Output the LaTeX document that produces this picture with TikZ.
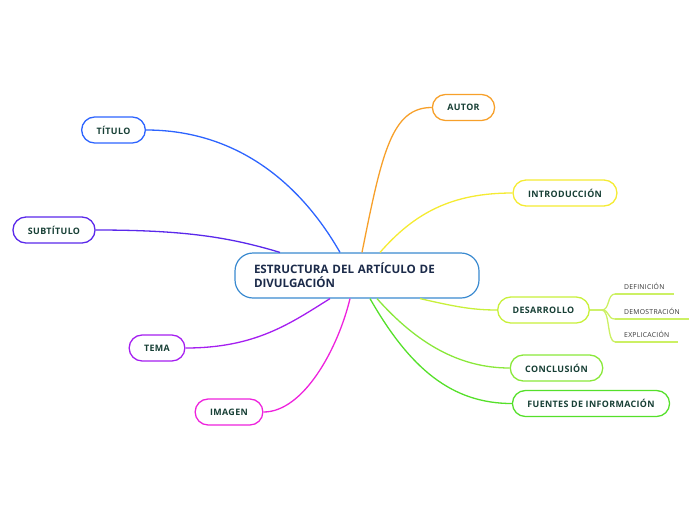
\documentclass[tikz,border=0pt]{standalone}
\usepackage{fontspec}
\setmainfont{Open Sans}
\newfontfamily\branchfont[LetterSpace=4]{Open Sans}
\usetikzlibrary{positioning, calc}
\definecolor{ctrline}{RGB}{58,138,208}
\definecolor{ctrtext}{RGB}{28,43,74}
\definecolor{nodetext}{RGB}{23,63,53}
\definecolor{cTitulo}{RGB}{45,100,255}
\definecolor{cSubtitulo}{RGB}{90,40,235}
\definecolor{cTema}{RGB}{165,30,240}
\definecolor{cImagen}{RGB}{238,34,221}
\definecolor{cAutor}{RGB}{247,160,42}
\definecolor{cIntro}{RGB}{245,235,50}
\definecolor{cDesarrollo}{RGB}{200,240,58}
\definecolor{cConclusion}{RGB}{138,232,58}
\definecolor{cFuentes}{RGB}{85,224,42}
\definecolor{cLeaf}{RGB}{204,240,100}

\begin{document}
\begin{tikzpicture}[x=1pt, y=-1pt,
    topic/.style={draw=ctrline, line width=1.2pt, fill=white, rounded corners=18pt,
      text width=206pt, inner xsep=19pt, minimum height=45pt, align=left,
      font=\fontsize{11.6}{14}\selectfont\bfseries, text=ctrtext},
    branch/.style={draw=#1, line width=1.3pt, fill=white, rounded corners=13pt,
      inner xsep=15pt, minimum height=26pt,
      font=\branchfont\fontsize{8.9}{10}\selectfont\bfseries, text=nodetext},
    link/.style={draw=#1, line width=1.3pt},
    leaf/.style={anchor=south west, inner xsep=9pt, inner ysep=4pt,
      font=\branchfont\fontsize{6.8}{8}\selectfont, text=black!80},
    twig/.style={draw=cLeaf, line width=1.3pt}]
  \useasboundingbox (0,0) rectangle (696,520);

  \node[topic] (ctr) at (357,275.5) {ESTRUCTURA DEL ARTÍCULO DE\\DIVULGACIÓN};

  % left side
  \node[branch=cTitulo] (titulo) at (113.5,130) {TÍTULO};
  \node[branch=cSubtitulo] (subtitulo) at (54,230) {SUBTÍTULO};
  \node[branch=cTema] (tema) at (157,348) {TEMA};
  \node[branch=cImagen] (imagen) at (229,412) {IMAGEN};

  % right side
  \node[branch=cAutor] (autor) at (463.5,107.5) {AUTOR};
  \node[branch=cIntro] (intro) at (565,193) {INTRODUCCIÓN};
  \node[branch=cDesarrollo] (desarrollo) at (543.5,310) {DESARROLLO};
  \node[branch=cConclusion] (conclusion) at (556.5,368) {CONCLUSIÓN};
  \node[branch=cFuentes] (fuentes) at (591,403.5) {FUENTES DE INFORMACIÓN};

  \draw[link=cTitulo] ([xshift=-17pt]ctr.north) .. controls +(-40,-70) and +(90,0) .. (titulo.east);
  \draw[link=cSubtitulo] ([xshift=-77pt]ctr.north) .. controls +(-50,-15) and +(90,0) .. (subtitulo.east);
  \draw[link=cTema] ([xshift=-27pt]ctr.south) .. controls +(-40,25) and +(70,0) .. (tema.east);
  \draw[link=cImagen] ([xshift=-7pt]ctr.south) .. controls +(-12,50) and +(40,0) .. (imagen.east);
  \draw[link=cAutor] ([xshift=5pt]ctr.north) .. controls +(20,-100) and +(-40,0) .. (autor.west);
  \draw[link=cIntro] ([xshift=23pt]ctr.north) .. controls +(35,-40) and +(-60,0) .. (intro.west);
  \draw[link=cDesarrollo] ([xshift=63pt]ctr.south) .. controls +(35,8) and +(-25,0) .. (desarrollo.west);
  \draw[link=cConclusion] ([xshift=20pt]ctr.south) .. controls +(40,45) and +(-50,0) .. (conclusion.west);
  \draw[link=cFuentes] ([xshift=13pt]ctr.south) .. controls +(40,70) and +(-60,0) .. (fuentes.west);

  % sub topics of DESARROLLO
  \node[leaf] (definicion) at (615,294) {DEFINICIÓN};
  \node[leaf] (demostracion) at (615,319) {DEMOSTRACIÓN};
  \node[leaf] (explicacion) at (615,342) {EXPLICACIÓN};
  \foreach \l in {definicion, demostracion, explicacion} {
    \draw[twig] (\l.south west) -- (\l.south east);
    \draw[twig] (desarrollo.east) -- ++(12,0) .. controls +(8,0) and +(-8,0) .. (\l.south west);
  }
\end{tikzpicture}
\end{document}
